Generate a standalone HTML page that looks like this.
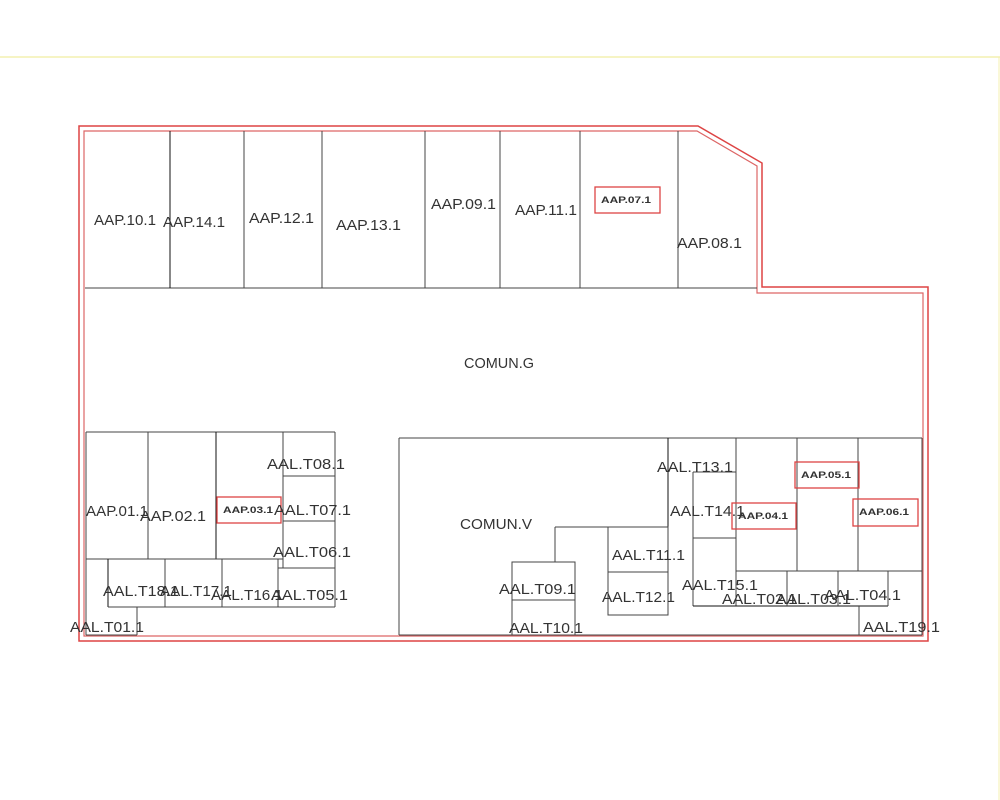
<!DOCTYPE html>
<html><head><meta charset="utf-8"><style>
html,body{margin:0;padding:0;background:#fff;width:1000px;height:800px;overflow:hidden}
svg{display:block}
text{font-family:"Liberation Sans",sans-serif;fill:#333}
.l{font-size:15px}
.s{font-size:9px;fill:#111;font-weight:bold}
</style></head><body>
<svg width="1000" height="800" viewBox="0 0 1000 800">
<line x1="0" y1="57" x2="1000" y2="57" stroke="#f4f0b0" stroke-width="1.5"/>
<line x1="999" y1="57" x2="999" y2="800" stroke="#f4f0b0" stroke-width="1"/>
<path d="M79,126 L698,126 L762,163 L762,287 L928,287 L928,641 L79,641 Z" fill="none" stroke="#d44" stroke-width="1.5"/>
<path d="M84,131 L697,131 L757,166 L757,293 L923,293 L923,636 L84,636 Z" fill="none" stroke="#d66" stroke-width="1.2"/>
<g stroke="#444" stroke-width="1" fill="none">
<line x1="85" y1="288" x2="757" y2="288"/>
<line x1="170" y1="131" x2="170" y2="288" stroke="#111"/>
<line x1="244" y1="131" x2="244" y2="288"/>
<line x1="322" y1="131" x2="322" y2="288"/>
<line x1="425" y1="131" x2="425" y2="288"/>
<line x1="500" y1="131" x2="500" y2="288"/>
<line x1="580" y1="131" x2="580" y2="288"/>
<line x1="678" y1="131" x2="678" y2="288"/>
<line x1="86" y1="432" x2="335" y2="432"/>
<line x1="86" y1="432" x2="86" y2="635"/>
<line x1="335" y1="432" x2="335" y2="607"/>
<line x1="148" y1="432" x2="148" y2="559"/>
<line x1="216" y1="432" x2="216" y2="559" stroke="#111"/>
<line x1="283" y1="432" x2="283" y2="568"/>
<line x1="86" y1="559" x2="283" y2="559"/>
<line x1="283" y1="476" x2="335" y2="476"/>
<line x1="283" y1="521" x2="335" y2="521"/>
<line x1="278" y1="568" x2="335" y2="568"/>
<line x1="108" y1="559" x2="108" y2="607" stroke="#111"/>
<line x1="108" y1="607" x2="335" y2="607"/>
<line x1="165" y1="559" x2="165" y2="607"/>
<line x1="222" y1="559" x2="222" y2="607"/>
<line x1="278" y1="559" x2="278" y2="607"/>
<line x1="137" y1="607" x2="137" y2="635"/>
<line x1="86" y1="635" x2="137" y2="635"/>
<line x1="399" y1="438" x2="922" y2="438"/>
<line x1="399" y1="438" x2="399" y2="635"/>
<line x1="399" y1="635" x2="922" y2="635"/>
<line x1="668" y1="438" x2="668" y2="615" stroke="#111"/>
<line x1="555" y1="527" x2="668" y2="527"/>
<line x1="555" y1="527" x2="555" y2="562"/>
<rect x="512" y="562" width="63" height="73"/>
<line x1="512" y1="600" x2="575" y2="600"/>
<rect x="608" y="527" width="60" height="88"/>
<line x1="608" y1="572" x2="668" y2="572"/>
<line x1="693" y1="472" x2="736" y2="472"/>
<line x1="693" y1="472" x2="693" y2="606"/>
<line x1="693" y1="538" x2="736" y2="538"/>
<line x1="736" y1="438" x2="736" y2="606"/>
<line x1="797" y1="438" x2="797" y2="571"/>
<line x1="858" y1="438" x2="858" y2="571"/>
<line x1="922" y1="438" x2="922" y2="635"/>
<line x1="736" y1="571" x2="922" y2="571"/>
<line x1="693" y1="606" x2="888" y2="606" stroke="#111"/>
<line x1="787" y1="571" x2="787" y2="606"/>
<line x1="838" y1="571" x2="838" y2="606"/>
<line x1="888" y1="571" x2="888" y2="606"/>
<line x1="859" y1="606" x2="859" y2="635"/>
</g>
<g stroke="#d44" stroke-width="1.3" fill="none">
<rect x="595" y="187" width="65" height="26"/>
<rect x="217" y="497" width="64" height="26"/>
<rect x="732" y="503" width="64" height="26"/>
<rect x="795" y="462" width="64" height="26"/>
<rect x="853" y="499" width="65" height="27"/>
</g>
<g class="s">
<text x="601" y="203" textLength="50" lengthAdjust="spacingAndGlyphs">AAP.07.1</text>
<text x="223" y="513" textLength="50" lengthAdjust="spacingAndGlyphs">AAP.03.1</text>
<text x="738" y="519" textLength="50" lengthAdjust="spacingAndGlyphs">AAP.04.1</text>
<text x="801" y="478" textLength="50" lengthAdjust="spacingAndGlyphs">AAP.05.1</text>
<text x="859" y="515" textLength="50" lengthAdjust="spacingAndGlyphs">AAP.06.1</text>
</g>
<g class="l" lengthAdjust="spacingAndGlyphs">
<text x="94" y="225" textLength="62" lengthAdjust="spacingAndGlyphs">AAP.10.1</text>
<text x="163" y="227" textLength="62" lengthAdjust="spacingAndGlyphs">AAP.14.1</text>
<text x="249" y="223" textLength="65" lengthAdjust="spacingAndGlyphs">AAP.12.1</text>
<text x="336" y="230" textLength="65" lengthAdjust="spacingAndGlyphs">AAP.13.1</text>
<text x="431" y="209" textLength="65" lengthAdjust="spacingAndGlyphs">AAP.09.1</text>
<text x="515" y="215" textLength="62" lengthAdjust="spacingAndGlyphs">AAP.11.1</text>
<text x="677" y="248" textLength="65" lengthAdjust="spacingAndGlyphs">AAP.08.1</text>
<text x="464" y="368" textLength="70" lengthAdjust="spacingAndGlyphs">COMUN.G</text>
<text x="460" y="529" textLength="72" lengthAdjust="spacingAndGlyphs">COMUN.V</text>
<text x="86" y="516" textLength="62" lengthAdjust="spacingAndGlyphs">AAP.01.1</text>
<text x="140" y="521" textLength="66" lengthAdjust="spacingAndGlyphs">AAP.02.1</text>
<text x="267" y="469" textLength="78" lengthAdjust="spacingAndGlyphs">AAL.T08.1</text>
<text x="274" y="515" textLength="77" lengthAdjust="spacingAndGlyphs">AAL.T07.1</text>
<text x="273" y="557" textLength="78" lengthAdjust="spacingAndGlyphs">AAL.T06.1</text>
<text x="271" y="600" textLength="77" lengthAdjust="spacingAndGlyphs">AAL.T05.1</text>
<text x="103" y="596" textLength="76" lengthAdjust="spacingAndGlyphs">AAL.T18.1</text>
<text x="160" y="596" textLength="72" lengthAdjust="spacingAndGlyphs">AAL.T17.1</text>
<text x="211" y="600" textLength="72" lengthAdjust="spacingAndGlyphs">AAL.T16.1</text>
<text x="70" y="632" textLength="74" lengthAdjust="spacingAndGlyphs">AAL.T01.1</text>
<text x="657" y="472" textLength="76" lengthAdjust="spacingAndGlyphs">AAL.T13.1</text>
<text x="670" y="516" textLength="75" lengthAdjust="spacingAndGlyphs">AAL.T14.1</text>
<text x="612" y="560" textLength="73" lengthAdjust="spacingAndGlyphs">AAL.T11.1</text>
<text x="499" y="594" textLength="77" lengthAdjust="spacingAndGlyphs">AAL.T09.1</text>
<text x="602" y="602" textLength="73" lengthAdjust="spacingAndGlyphs">AAL.T12.1</text>
<text x="682" y="590" textLength="76" lengthAdjust="spacingAndGlyphs">AAL.T15.1</text>
<text x="722" y="604" textLength="75" lengthAdjust="spacingAndGlyphs">AAL.T02.1</text>
<text x="776" y="604" textLength="75" lengthAdjust="spacingAndGlyphs">AAL.T03.1</text>
<text x="824" y="600" textLength="77" lengthAdjust="spacingAndGlyphs">AAL.T04.1</text>
<text x="509" y="633" textLength="74" lengthAdjust="spacingAndGlyphs">AAL.T10.1</text>
<text x="863" y="632" textLength="77" lengthAdjust="spacingAndGlyphs">AAL.T19.1</text>
</g>
</svg>
</body></html>
